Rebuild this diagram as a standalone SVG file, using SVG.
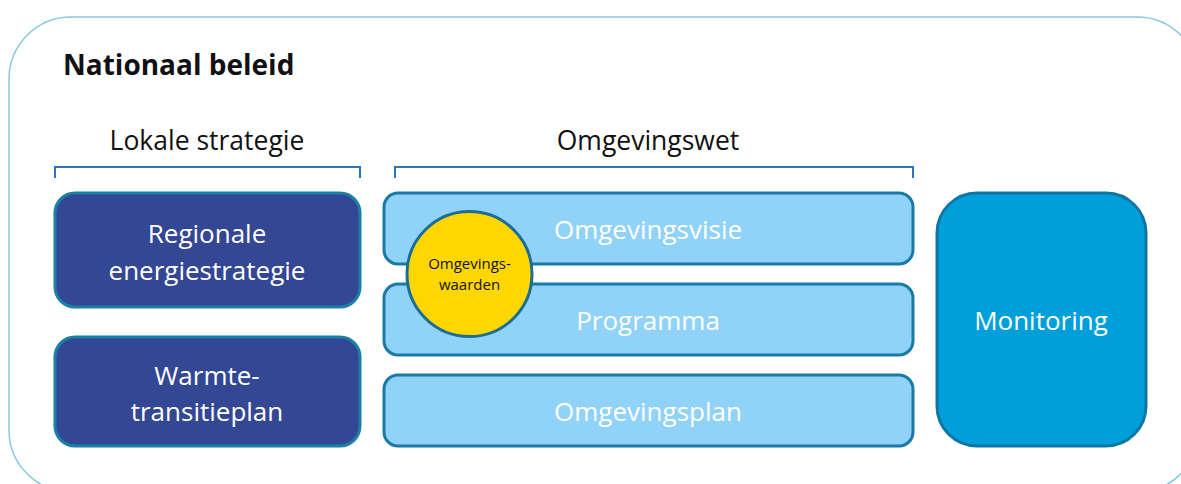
<svg xmlns="http://www.w3.org/2000/svg" width="1181" height="484" viewBox="0 0 1181 484">
<style>
.t{font-family:"Open Sans","Liberation Sans",sans-serif;}
.w{fill:#ffffff;font-size:26px;text-anchor:middle;}
.h{fill:#111111;font-size:26.5px;text-anchor:middle;}
.dark{fill:#334794;stroke:#1b7fa6;stroke-width:3;}
.light{fill:#90d2f8;stroke:#1a7aa6;stroke-width:3;}
.mon{fill:#009fd9;stroke:#0e76a6;stroke-width:3;}
.br{fill:none;stroke:#2e75b6;stroke-width:2;}
</style>
<rect x="9" y="17" width="1190" height="475" rx="62" fill="#ffffff" stroke="#86c9e0" stroke-width="1.5"/>
<text class="t" x="63" y="75" font-size="28" font-weight="bold" fill="#111">Nationaal beleid</text>
<g id="connectors">
<path class="br" d="M55,178 V167 H360 V178"/>
<path class="br" d="M395,178 V167 H913 V178"/>
</g>
<text class="t h" x="207" y="150">Lokale strategie</text>
<text class="t h" x="648" y="150">Omgevingswet</text>
<g id="res">
<rect class="dark" x="55" y="193" width="305" height="114" rx="20"/>
<text class="t w" x="207" y="243">Regionale</text>
<text class="t w" x="207" y="280">energiestrategie</text>
</g>
<g id="wtp">
<rect class="dark" x="55" y="337" width="305" height="109" rx="20"/>
<text class="t w" x="207" y="385">Warmte-</text>
<text class="t w" x="207" y="421">transitieplan</text>
</g>
<g id="visie">
<rect class="light" x="384" y="193" width="529" height="71" rx="14"/>
<text class="t w" x="648" y="239">Omgevingsvisie</text>
</g>
<g id="programma">
<rect class="light" x="384" y="284" width="529" height="71" rx="14"/>
<text class="t w" x="648" y="330">Programma</text>
</g>
<g id="plan">
<rect class="light" x="384" y="375" width="529" height="71" rx="14"/>
<text class="t w" x="648" y="421">Omgevingsplan</text>
</g>
<g id="monitoring">
<rect class="mon" x="937" y="193" width="209" height="253" rx="40"/>
<text class="t w" x="1041" y="330">Monitoring</text>
</g>
<g id="waarden">
<circle cx="469.5" cy="274" r="62.5" fill="#ffd700" stroke="#1a6e95" stroke-width="3"/>
<text class="t" x="469.5" y="269" font-size="15" text-anchor="middle" fill="#111">Omgevings-</text>
<text class="t" x="469.5" y="290" font-size="15" text-anchor="middle" fill="#111">waarden</text>
</g>
</svg>
